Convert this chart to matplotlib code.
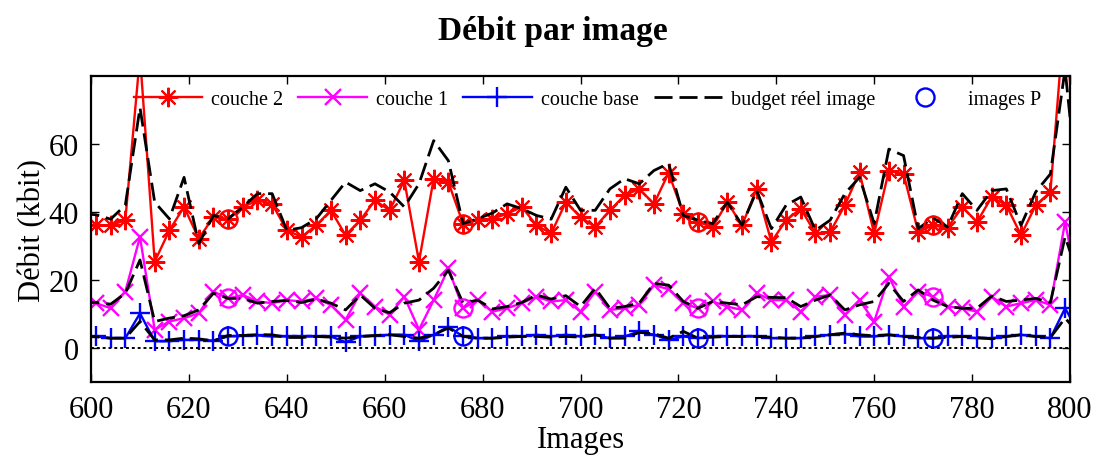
import matplotlib
matplotlib.use("Agg")
import matplotlib.pyplot as plt

plt.rcParams['font.family'] = ['Liberation Serif', 'DejaVu Serif']
plt.rcParams['mathtext.fontset'] = 'stix'

# image numbers (one point every 3 images; first/last are just outside the axes)
images = [598, 601, 604, 607, 610, 613, 616, 619, 622, 625, 628, 631, 634, 637,
          640, 643, 646, 649, 652, 655, 658, 661, 664, 667, 670, 673, 676, 679,
          682, 685, 688, 691, 694, 697, 700, 703, 706, 709, 712, 715, 718, 721,
          724, 727, 730, 733, 736, 739, 742, 745, 748, 751, 754, 757, 760, 763,
          766, 769, 772, 775, 778, 781, 784, 787, 790, 793, 796, 799, 802]

couche2 = [36, 36.1, 36.1, 37.6, 86, 25.4, 34.6, 41.5, 32.2, 38.5, 38.0, 41.5, 43.4, 42.4,
           34.6, 32.7, 36.1, 40.5, 33.2, 37.6, 43.4, 40.5, 49.3, 25.4, 49.8, 48.8, 36.6, 37.8,
           38, 39.5, 41.5, 36.1, 33.7, 42.9, 38.5, 35.6, 40.5, 44.9, 46.8, 42.4, 51.5, 39.5,
           37.1, 35.6, 42.9, 36.1, 46.8, 31.2, 37.6, 41, 33.7, 34.1, 42, 51.7, 33.7, 52.2,
           51.2, 34.1, 36.1, 35.4, 41.5, 37.1, 44.4, 42, 33.2, 42, 45.9, 100, 35]

budget2 = [39.5, 39.2, 37.9, 42, 70.7, 42.9, 38, 50.2, 30.7, 39, 38, 41.5, 45.4, 45.4,
           34.6, 35.4, 38, 43.4, 48.8, 46.3, 48.3, 45.9, 41.5, 48.3, 61, 55.1, 36.6, 38,
           39.7, 42.4, 41, 39, 37.9, 47.3, 40.5, 40.5, 46.8, 49.8, 48.3, 52.2, 54.3, 39,
           37.6, 36.6, 42.9, 36.1, 46.3, 35.1, 42, 44.4, 34.6, 37.6, 45.4, 50.2, 36.6, 58.5,
           56.6, 35.1, 38.3, 35.6, 45.4, 40.5, 46.3, 46.8, 36.1, 45.9, 51.2, 82, 40]

couche1 = [13.5, 13.2, 11.7, 16.6, 32.7, 5.4, 7.8, 8.8, 10.2, 16.6, 14.6, 15.6, 13.7, 13.2,
           14.1, 13.7, 14.6, 12.7, 8.3, 16.1, 12.2, 9.8, 15.1, 5.4, 14.1, 23.4, 11.7, 14.1,
           10.7, 11.7, 13.2, 15.1, 13.7, 14.1, 10.7, 16.6, 11.2, 11.7, 12.7, 18.5, 17.3, 13.2,
           11.7, 13.7, 12.2, 11.2, 16.1, 14.1, 14.1, 10.7, 15.1, 15.6, 9.8, 14.1, 7.8, 21,
           12.2, 16.6, 15.1, 12.2, 11.7, 10.7, 15.1, 12.2, 13.2, 14.1, 12.7, 37.1, 15]

budget1 = [13.5, 13.4, 12.9, 16.1, 25.9, 7.8, 8.8, 9.5, 11.2, 16.1, 14.6, 14.6, 13.2, 13.7,
           14, 13.4, 14.4, 13.2, 11.2, 15.6, 11.7, 10.4, 13.2, 14.1, 17.6, 22.9, 13.2, 14.1,
           11.5, 12.2, 13.4, 15.6, 14.4, 15.4, 12.2, 17.6, 11.7, 12.2, 13.2, 19, 18.5, 13.7,
           11.7, 13.7, 13.2, 12.7, 15.1, 14.9, 14.8, 12.2, 14.1, 15.6, 11.2, 12.7, 13.7, 19,
           13.7, 17.1, 14.1, 12.2, 11.7, 11.7, 15.3, 13.7, 14.1, 14.6, 13.4, 32.7, 20]

couche_base = [3.5, 3.4, 2.9, 2.9, 10.2, 2.0, 2.0, 2.4, 2.4, 2.2, 3.4, 3.6, 3.7, 3.4,
               3.4, 3.4, 3.4, 3.4, 1.7, 3.4, 3.6, 3.9, 3.9, 2.0, 3.9, 6.3, 3.4, 2.9,
               2.9, 3.4, 3.4, 3.9, 3.4, 3.9, 3.4, 3.9, 2.9, 3.4, 4.9, 3.9, 2.4, 3.4,
               2.9, 3.4, 3.4, 3.4, 3.4, 2.9, 2.9, 2.9, 3.4, 3.9, 4.1, 3.4, 3.4, 3.9,
               3.4, 2.9, 2.9, 3.4, 3.4, 2.9, 2.9, 3.4, 3.9, 3.4, 2.9, 11.7, 4]

budget0 = [3.4, 3.3, 2.9, 2.9, 7.8, 2.4, 2.4, 2.9, 2.7, 2.1, 3.7, 3.7, 3.9, 3.9,
           3.1, 3.1, 3.4, 3.2, 2.9, 3.4, 3.7, 3.9, 3.4, 2.9, 3.9, 5.9, 3.4, 2.9,
           2.9, 3.2, 3.4, 3.4, 3.2, 3.4, 3.2, 3.9, 2.9, 2.9, 4.6, 4.2, 2.9, 4.9,
           2.9, 3.2, 3.4, 3.4, 3.4, 3.2, 2.9, 2.9, 3.4, 3.9, 4.4, 3.9, 3.6, 3.9,
           3.4, 3.1, 2.9, 3.1, 3.4, 3.1, 2.7, 3.4, 3.9, 3.4, 3.1, 8.8, 4]

p_frames = [628, 676, 724, 772]

xticks = [600, 620, 640, 660, 680, 700, 720, 740, 760, 780, 800]
yticks = [0, 20, 40, 60]

fig = plt.figure(figsize=(11.05, 4.56), dpi=100)
ax = fig.add_axes([0.0824, 0.160, 0.8859, 0.6711])

ast = (8, 2, 0)
lw = 1.7
dash = (0, (6.5, 2.5))

h2, = ax.plot(images, couche2, color='red', lw=lw, marker=ast, ms=14, mew=1.5, label='couche 2')
h1, = ax.plot(images, couche1, color='magenta', lw=lw, marker='x', ms=11, mew=1.7, label='couche 1')
h0, = ax.plot(images, couche_base, color='blue', lw=lw, marker='+', ms=15, mew=1.7, label='couche base')
hb, = ax.plot(images, budget2, color='black', lw=2.0, linestyle=dash, label='budget réel image')
ax.plot(images, budget1, color='black', lw=2.0, linestyle=dash)
ax.plot(images, budget0, color='black', lw=2.0, linestyle=dash)

idx = [images.index(f) for f in p_frames]
ax.plot(p_frames, [couche2[i] for i in idx], linestyle='none', marker='o', ms=13,
        mfc='none', mec='red', mew=1.7)
ax.plot(p_frames, [couche1[i] for i in idx], linestyle='none', marker='o', ms=13,
        mfc='none', mec='magenta', mew=1.7)
hp, = ax.plot(p_frames, [couche_base[i] for i in idx], linestyle='none', marker='o', ms=13,
              mfc='none', mec='blue', mew=1.7, label='images P')

ax.axhline(0, color='black', lw=1.4, linestyle=(0, (1.5, 1.5)))

ax.set_xlim(600, 800)
ax.set_ylim(-10, 80)
ax.set_xticks(xticks)
ax.set_yticks(yticks)
ax.tick_params(direction='in', top=True, right=True, length=6, width=1,
               labelsize=22, pad=9)
for s in ax.spines.values():
    s.set_linewidth(1.6)

ax.set_xlabel('Images', fontsize=22, labelpad=1)
ax.set_ylabel('Débit (kbit)', fontsize=22, labelpad=1)
fig.suptitle('Débit par image', fontsize=24, fontweight='bold', y=0.965)

ax.legend(handles=[h2, h1, h0, hb, hp], loc='center', bbox_to_anchor=(0.507, 0.922),
          ncol=5, frameon=False, fontsize=14.5, handlelength=3.4, handletextpad=0.45,
          columnspacing=0.75, borderpad=0, borderaxespad=0)

fig.savefig('out.png', dpi=100)
